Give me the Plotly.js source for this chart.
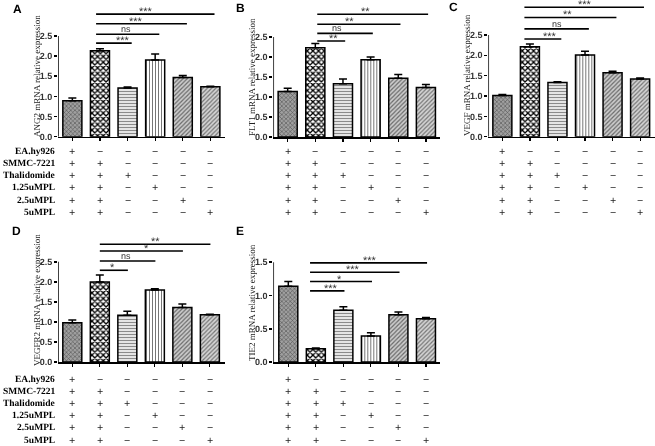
<!DOCTYPE html>
<html><head><meta charset="utf-8">
<script src="https://cdn.plot.ly/plotly-3.0.1.min.js"></script>
<style>
html,body{margin:0;padding:0;background:#fff}
.main-svg{will-change:transform}
svg text{text-rendering:geometricPrecision}
</style>
</head><body><div id="chart" style="width:655px;height:446px"></div>
<script>
// ---------- DATA ----------
const categories = ['EA.hy926', 'SMMC-7221', 'Thalidomide', '1.25uMPL', '2.5uMPL', '5uMPL'];
const rowLabels = ['EA.hy926', 'SMMC-7221', 'Thalidomide', '1.25uMPL', '2.5uMPL', '5uMPL'];
const signRows = [
  ['+', '−', '−', '−', '−', '−'],
  ['+', '+', '−', '−', '−', '−'],
  ['+', '+', '+', '−', '−', '−'],
  ['+', '+', '−', '+', '−', '−'],
  ['+', '+', '−', '−', '+', '−'],
  ['+', '+', '−', '−', '−', '+']
];

const ang2Values = [0.89, 2.13, 1.21, 1.90, 1.47, 1.24];
const ang2Errors = [0.07, 0.05, 0.02, 0.15, 0.05, 0.01];
const flt1Values = [1.14, 2.23, 1.33, 1.93, 1.47, 1.24];
const flt1Errors = [0.08, 0.11, 0.12, 0.07, 0.09, 0.07];
const vegfValues = [1.01, 2.21, 1.33, 2.01, 1.57, 1.42];
const vegfErrors = [0.03, 0.07, 0.02, 0.09, 0.04, 0.02];
const vegfr2Values = [0.98, 2.00, 1.17, 1.80, 1.36, 1.18];
const vegfr2Errors = [0.07, 0.17, 0.10, 0.03, 0.09, 0.01];
const tie2Values = [1.14, 0.20, 0.78, 0.39, 0.71, 0.65];
const tie2Errors = [0.07, 0.01, 0.05, 0.05, 0.04, 0.02];

const sigFrom = 1;
const sigTo = [2, 3, 4, 5];
const ang2SigLabels = ['***', 'ns', '***', '***'];
const ang2SigLevels = [2.32, 2.54, 2.80, 3.04];
const flt1SigLabels = ['**', 'ns', '**', '**'];
const flt1SigLevels = [2.40, 2.59, 2.82, 3.07];
const vegfSigLabels = ['***', 'ns', '**', '***'];
const vegfSigLevels = [2.40, 2.65, 2.93, 3.18];
const vegfr2SigLabels = ['*', 'ns', '*', '**'];
const vegfr2SigLevels = [2.29, 2.52, 2.77, 2.94];
const tie2SigLabels = ['***', '*', '***', '***'];
const tie2SigLevels = [1.07, 1.21, 1.35, 1.49];

const yTickVals25 = [0, 0.5, 1.0, 1.5, 2.0, 2.5];
const yTickVals15 = [0, 0.5, 1.0, 1.5];

// ---------- LAYOUT / STYLE ----------
const W = 655, H = 446;
const px = v => v / W;
const py = v => 1 - v / H;
const SERIF = 'Liberation Serif, Times New Roman, serif';
const SANS = 'Liberation Sans, Arial, sans-serif';

const panels = [
  {letter: 'A', title: 'ANG2 mRNA relative expression', values: ang2Values, errors: ang2Errors,
   sigLabels: ang2SigLabels, sigLevels: ang2SigLevels, ticks: yTickVals25,
   xPx: [58, 225], yPx: [0, 136.7], xr: [-0.52, 5.53], yr: [0, 3.39],
   titlePos: [37, 76], letterPos: [17, 9], rowY0: 151.7, showRowLabels: true,
   labelX: [1.84, 1.95, 2.31, 2.67], startOff: -0.14, endOff: 0.15},
  {letter: 'B', title: 'FLT1 mRNA relative expression', values: flt1Values, errors: flt1Errors,
   sigLabels: flt1SigLabels, sigLevels: flt1SigLevels, ticks: yTickVals25,
   xPx: [273.3, 440], yPx: [0, 137], xr: [-0.52, 5.51], yr: [0, 3.425],
   titlePos: [252, 77], letterPos: [240, 8], rowY0: 151.7, showRowLabels: false,
   labelX: [1.67, 1.77, 2.23, 2.82], startOff: 0.07, endOff: 0.08},
  {letter: 'C', title: 'VEGF mRNA relative expression', values: vegfValues, errors: vegfErrors,
   sigLabels: vegfSigLabels, sigLevels: vegfSigLevels, ticks: yTickVals25,
   xPx: [488.3, 655], yPx: [0, 136.7], xr: [-0.51, 5.54], yr: [0, 3.36],
   titlePos: [467, 75], letterPos: [453, 7], rowY0: 151.7, showRowLabels: false,
   labelX: [1.73, 2.0, 2.36, 3.0], startOff: -0.2, endOff: 0.14},
  {letter: 'D', title: 'VEGFR2 mRNA relative expression', values: vegfr2Values, errors: vegfr2Errors,
   sigLabels: vegfr2SigLabels, sigLevels: vegfr2SigLevels, ticks: yTickVals25,
   xPx: [58, 225], yPx: [225, 362], xr: [-0.52, 5.55], yr: [0, 3.42],
   titlePos: [37, 300], letterPos: [16, 231], rowY0: 379.5, showRowLabels: true,
   labelX: [1.47, 1.95, 2.68, 3.04], startOff: 0.0, endOff: 0.02},
  {letter: 'E', title: 'TIE2 mRNA relative expression', values: tie2Values, errors: tie2Errors,
   sigLabels: tie2SigLabels, sigLevels: tie2SigLevels, ticks: yTickVals15,
   xPx: [273.3, 440], yPx: [225, 362], xr: [-0.545, 5.51], yr: [0, 2.06],
   titlePos: [252, 303], letterPos: [240, 231], rowY0: 379.5, showRowLabels: false,
   labelX: [1.55, 1.85, 2.35, 2.98], startOff: -0.21, endOff: 0.04}
];

const patShape = ['x', 'x', '-', '|', '/', '/'];
const patFg = ['#505050', '#000000', '#8a8a8a', '#666666', '#6a6a6a', '#767676'];
const patBg = ['#a0a0a0', '#ffffff', '#eeeeee', '#ffffff', '#cccccc', '#d4d4d4'];
const patSize = [3, 4, 3, 3, 3, 3];
const patSol = [0.35, 0.55, 0.4, 0.3, 0.4, 0.4];

const rowStep = 12.2;

const data = [];
const layout = {
  width: W, height: H, margin: {l: 0, r: 0, t: 0, b: 0},
  paper_bgcolor: '#ffffff', plot_bgcolor: 'rgba(0,0,0,0)',
  showlegend: false, shapes: [], annotations: []
};

panels.forEach((p, i) => {
  const n = i === 0 ? '' : String(i + 1);
  const xa = 'x' + n, ya = 'y' + n;
  const xIdx = categories.map((_, k) => k);
  data.push({
    type: 'bar', x: xIdx, y: p.values, xaxis: xa, yaxis: ya, width: 0.69,
    marker: {
      color: '#ffffff', line: {color: '#000000', width: 1.5},
      pattern: {shape: patShape, fgcolor: patFg, bgcolor: patBg, size: patSize, solidity: patSol, fillmode: 'replace'}
    },
    error_y: {type: 'data', symmetric: false, array: p.errors, arrayminus: p.errors.map(() => 0),
      color: '#000000', thickness: 1.5, width: 4},
    hoverinfo: 'skip'
  });
  layout['xaxis' + n] = {
    domain: [px(p.xPx[0]), px(p.xPx[1])], range: p.xr, anchor: ya,
    showgrid: false, zeroline: false, showline: true, linecolor: '#000', linewidth: 1.5,
    ticks: 'outside', ticklen: 3, tickwidth: 1.2, tickcolor: '#000',
    tickvals: xIdx, showticklabels: false, fixedrange: true
  };
  layout['yaxis' + n] = {
    domain: [py(p.yPx[1]), py(p.yPx[0])], range: p.yr, anchor: xa,
    showgrid: false, zeroline: false, showline: false,
    ticks: 'outside', ticklen: 3, tickwidth: 1.5, tickcolor: '#000',
    tickvals: p.ticks, tickformat: '.1f',
    tickfont: {family: SANS, size: 9, weight: 'bold', color: '#333'}, fixedrange: true
  };
  layout.shapes.push({type: 'line', xref: xa, yref: ya, x0: p.xr[0], x1: p.xr[0], y0: 0,
    y1: p.ticks[p.ticks.length - 1], line: {color: '#000', width: 1.5}});
  sigTo.forEach((t, k) => {
    layout.shapes.push({type: 'line', xref: xa, yref: ya, x0: sigFrom + p.startOff, x1: t + p.endOff,
      y0: p.sigLevels[k], y1: p.sigLevels[k], line: {color: '#000', width: 1.6}});
    const isNs = p.sigLabels[k] === 'ns';
    layout.annotations.push({xref: xa, yref: ya, x: p.labelX[k], y: p.sigLevels[k],
      text: p.sigLabels[k], showarrow: false, xanchor: 'center', yanchor: 'bottom',
      yshift: isNs ? -1 : -5, borderpad: 0,
      font: {family: SANS, size: isNs ? 9 : 11, color: '#333'}});
  });
  layout.annotations.push({xref: 'paper', yref: 'paper', x: px(p.titlePos[0]), y: py(p.titlePos[1]),
    text: p.title, textangle: -90, showarrow: false, xanchor: 'center', yanchor: 'middle',
    font: {family: SERIF, size: 9, color: '#222'}});
  layout.annotations.push({xref: 'paper', yref: 'paper', x: px(p.letterPos[0]), y: py(p.letterPos[1]),
    text: p.letter, showarrow: false, xanchor: 'center', yanchor: 'middle',
    font: {family: SANS, size: 12, weight: 'bold', color: '#000'}});
  signRows.forEach((row, r) => {
    const yy = py(p.rowY0 + r * rowStep);
    if (p.showRowLabels) {
      layout.annotations.push({xref: 'paper', yref: 'paper', x: px(56), y: yy, text: rowLabels[r],
        showarrow: false, xanchor: 'right', yanchor: 'middle', borderpad: 0,
        font: {family: SERIF, size: 9.5, weight: 'bold', color: '#000'}});
    }
    row.forEach((s, c) => {
      layout.annotations.push({xref: xa, yref: 'paper', x: xIdx[c], y: yy, text: s,
        showarrow: false, xanchor: 'center', yanchor: 'middle', borderpad: 0,
        font: {family: SERIF, size: 11, weight: 'bold', color: '#222'}});
    });
  });
});

Plotly.newPlot('chart', data, layout, {staticPlot: true, displayModeBar: false});
</script></body></html>
